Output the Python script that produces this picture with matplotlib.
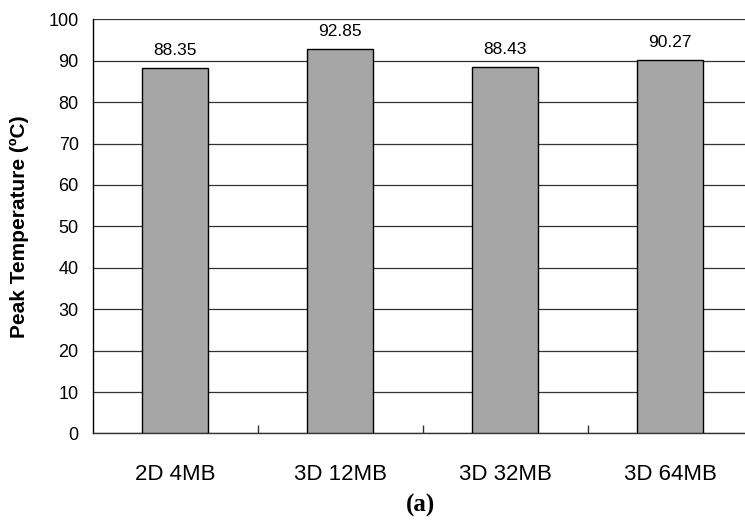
import matplotlib
matplotlib.use('Agg')
from matplotlib import pyplot as plt

# data
configs = ['2D 4MB', '3D 12MB', '3D 32MB', '3D 64MB']
peak_temps = [88.35, 92.85, 88.43, 90.27]
y_ticks = [0, 10, 20, 30, 40, 50, 60, 70, 80, 90, 100]

plt.rcParams['font.family'] = ['Liberation Sans', 'DejaVu Sans']

fig = plt.figure(figsize=(7.45, 5.21), dpi=100)
# the reference crops the plot at the right edge, so the axes runs past the figure
axs = fig.add_axes([0.1242, 0.168, 0.886, 0.795])

xs = list(range(len(configs)))
bars = axs.bar(xs, peak_temps, width=0.4, color='#a6a6a6', edgecolor='black',
               linewidth=1.0, zorder=3)

# value labels above the bars
for x, v in zip(xs, peak_temps):
    axs.text(x, v + 2.4, '{:.2f}'.format(v), ha='center', va='bottom',
             fontsize=12.5, zorder=4)

axs.set_xlim(-0.5, len(configs) - 0.5)
axs.set_ylim(0, 100)
axs.set_yticks(y_ticks)
axs.tick_params(axis='y', labelsize=13, direction='in', length=0, pad=10)

axs.set_xticks(xs)
axs.set_xticklabels(configs, fontsize=16)
axs.tick_params(axis='x', which='major', length=0, pad=22)
# small tick marks between categories
axs.set_xticks([x + 0.5 for x in xs[:-1]], minor=True)
axs.tick_params(axis='x', which='minor', direction='in', length=6, width=1,
                color='#333333')

axs.yaxis.grid(True, color='#333333', linewidth=0.9, zorder=0)
axs.set_axisbelow(True)

axs.spines['top'].set_visible(False)
axs.spines['right'].set_visible(False)
axs.spines['left'].set_color('black')
axs.spines['bottom'].set_color('#333333')
axs.spines['left'].set_linewidth(1.0)
axs.spines['bottom'].set_linewidth(1.0)

axs.set_ylabel('Peak Temperature (ºC)', fontsize=15, fontweight='bold')
axs.yaxis.set_label_coords(-0.097, 0.5)

fig.text(0.565, 0.03, '(a)', ha='center', va='center', fontsize=18,
         fontweight='bold', family=['Liberation Serif', 'DejaVu Serif'])

fig.savefig('out.png', dpi=100)
